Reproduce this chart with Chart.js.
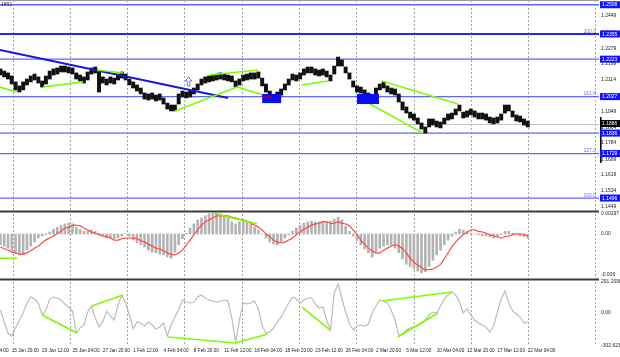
<!DOCTYPE html>
<html><head><meta charset="utf-8">
<script src="https://cdn.jsdelivr.net/npm/chart.js@4.4.1/dist/chart.umd.min.js"></script>
<style>
html,body{margin:0;padding:0;background:#fff;}
#wrap{position:relative;width:620px;height:357px;overflow:hidden;background:#fff;}
canvas{position:absolute;left:0;}
</style></head><body>
<div id="wrap">
<canvas id="c1" width="620" height="211" style="top:0px"></canvas>
<canvas id="c2" width="620" height="69" style="top:210px"></canvas>
<canvas id="c3" width="620" height="79" style="top:278px"></canvas>
</div>
<script>
// ---------- DATA (each index = one 8-hour step, two H4 candles) ----------
const priceHigh = [
1.2172,1.2161,1.2151,1.2135,1.2104,1.2083,1.2104,1.2119,1.2135,1.2145,
1.2130,1.2109,1.2135,1.2161,1.2172,1.2177,1.2187,1.2187,1.2182,1.2177,
1.2151,1.2140,1.2130,1.2156,1.2177,1.2182,1.2156,1.2130,1.2119,1.2130,
1.2124,1.2145,1.2156,1.2145,1.2119,1.2104,1.2088,1.2072,1.2046,1.2041,
1.2046,1.2035,1.2041,1.2020,1.1993,1.1983,1.1983,1.2041,1.2056,1.2051,
1.2056,1.2072,1.2093,1.2119,1.2130,1.2135,1.2140,1.2145,1.2151,1.2145,
1.2140,1.2135,1.2109,1.2119,1.2140,1.2145,1.2151,1.2151,1.2156,1.2124,
1.2093,1.2056,1.2035,1.2051,1.2067,1.2093,1.2119,1.2145,1.2140,1.2151,
1.2172,1.2182,1.2182,1.2172,1.2166,1.2172,1.2161,1.2140,1.2187,1.2234,
1.2219,1.2182,1.2151,1.2109,1.2083,1.2077,1.2062,1.2046,1.2030,1.2072,
1.2093,1.2104,1.2083,1.2072,1.2067,1.2041,1.1999,1.1973,1.1946,1.1936,
1.1915,1.1889,1.1868,1.1910,1.1910,1.1899,1.1894,1.1915,1.1936,1.1941,
1.1962,1.1983,1.1946,1.1952,1.1962,1.1952,1.1941,1.1941,1.1936,1.1920,
1.1915,1.1920,1.1936,1.1983,1.1983,1.1952,1.1931,1.1925,1.1910,1.1899];
const priceLow = [
1.2140,1.2130,1.2119,1.2093,1.2062,1.2051,1.2062,1.2088,1.2104,1.2114,
1.2098,1.2077,1.2093,1.2119,1.2140,1.2145,1.2156,1.2156,1.2151,1.2145,
1.2119,1.2109,1.2098,1.2114,1.2145,1.2151,1.2051,1.2098,1.2088,1.2098,
1.2093,1.2114,1.2124,1.2114,1.2088,1.2072,1.2056,1.2041,1.2014,1.2009,
1.2014,1.2004,1.2009,1.1988,1.1962,1.1952,1.1952,1.1988,1.2025,1.2020,
1.2025,1.2041,1.2062,1.2088,1.2098,1.2104,1.2109,1.2114,1.2119,1.2114,
1.2109,1.2104,1.2077,1.2088,1.2109,1.2114,1.2119,1.2119,1.2124,1.2083,
1.2051,1.2014,1.2004,1.2020,1.2035,1.2062,1.2088,1.2114,1.2109,1.2119,
1.2140,1.2151,1.2151,1.2140,1.2135,1.2140,1.2130,1.2109,1.2145,1.2187,
1.2187,1.2151,1.2119,1.2077,1.2051,1.2046,1.2030,1.2014,1.1999,1.2030,
1.2062,1.2072,1.2051,1.2041,1.2035,1.1999,1.1957,1.1941,1.1915,1.1904,
1.1884,1.1857,1.1836,1.1868,1.1878,1.1868,1.1863,1.1884,1.1904,1.1910,
1.1931,1.1952,1.1915,1.1920,1.1931,1.1920,1.1910,1.1910,1.1904,1.1889,
1.1884,1.1889,1.1904,1.1941,1.1952,1.1920,1.1899,1.1894,1.1878,1.1868];
const macdHist = [
-0.0016,-0.0018,-0.0021,-0.0025,-0.0028,-0.0031,-0.0030,-0.0024,-0.0018,-0.0012,
-0.0006,-0.0003,-0.0001,0.0003,0.0007,0.0010,0.0013,0.0015,0.0016,0.0015,
0.0010,0.0007,0.0004,0.0004,0.0006,0.0004,0.0001,-0.0003,-0.0006,-0.0006,
-0.0007,-0.0006,-0.0003,0,-0.0003,-0.0009,-0.0013,-0.0016,-0.0019,-0.0024,
-0.0027,-0.0028,-0.0030,-0.0031,-0.0034,-0.0036,-0.0027,-0.0016,-0.0007,0.0001,
0.0009,0.0015,0.0021,0.0024,0.0027,0.0030,0.0031,0.0031,0.0030,0.0028,
0.0024,0.0018,0.0015,0.0018,0.0019,0.0018,0.0015,0.0010,0.0006,0,
-0.0006,-0.0012,-0.0015,-0.0016,-0.0012,-0.0006,-0.0001,0.0004,0.0009,0.0013,
0.0016,0.0018,0.0019,0.0018,0.0018,0.0019,0.0018,0.0019,0.0022,0.0025,
0.0021,0.0012,0.0004,-0.0003,-0.0010,-0.0016,-0.0022,-0.0028,-0.0034,-0.0027,
-0.0021,-0.0018,-0.0016,-0.0016,-0.0021,-0.0028,-0.0037,-0.0045,-0.0049,-0.0052,
-0.0055,-0.0058,-0.0056,-0.0048,-0.0039,-0.0031,-0.0024,-0.0016,-0.0009,-0.0003,
0.0003,0.0007,0.0006,0.0003,0.0001,0,-0.0001,-0.0003,-0.0003,-0.0004,
-0.0006,-0.0004,-0.0001,0.0004,0.0004,0.0001,-0.0001,-0.0003,-0.0004,-0.0006];
const macdSignal = [
-0.0019,-0.0022,-0.0024,-0.0027,-0.0028,-0.0030,-0.0030,-0.0028,-0.0025,-0.0021,
-0.0018,-0.0013,-0.0009,-0.0006,-0.0003,0.0001,0.0004,0.0009,0.0010,0.0013,
0.0013,0.0012,0.0009,0.0006,0.0003,0.0001,-0.0001,-0.0003,-0.0004,-0.0006,
-0.0009,-0.0009,-0.0007,-0.0006,-0.0006,-0.0006,-0.0007,-0.0010,-0.0012,-0.0015,
-0.0018,-0.0021,-0.0022,-0.0025,-0.0028,-0.0030,-0.0031,-0.0028,-0.0024,-0.0016,
-0.0009,-0.0001,0.0006,0.0013,0.0018,0.0021,0.0024,0.0027,0.0027,0.0027,
0.0027,0.0025,0.0024,0.0022,0.0021,0.0019,0.0016,0.0013,0.0010,0.0006,
0,-0.0004,-0.0009,-0.0012,-0.0013,-0.0012,-0.0009,-0.0006,-0.0001,0.0003,
0.0007,0.0010,0.0013,0.0015,0.0016,0.0018,0.0018,0.0016,0.0016,0.0018,
0.0016,0.0015,0.0012,0.0006,-0.0001,-0.0009,-0.0015,-0.0021,-0.0025,-0.0028,
-0.0028,-0.0024,-0.0021,-0.0018,-0.0016,-0.0018,-0.0022,-0.0028,-0.0036,-0.0042,
-0.0046,-0.0050,-0.0053,-0.0053,-0.0052,-0.0049,-0.0045,-0.0037,-0.0028,-0.0019,
-0.0012,-0.0006,-0.0001,0.0003,0.0006,0.0006,0.0004,0.0003,0.0001,-0.0001,
-0.0003,-0.0004,-0.0006,-0.0004,-0.0003,-0.0001,0,0,-0.0001,-0.0003];
const cciValues = [
28,-85,-188,-216,-141,-66,0,94,150,131,
94,-19,28,131,150,141,122,85,56,19,
-188,-141,-113,9,66,-47,-131,-85,19,-28,
-66,75,169,94,-19,-150,-85,-94,-122,-85,
-113,-150,-131,-94,-216,-113,-38,28,122,103,
94,103,150,169,141,122,113,103,113,122,
113,-47,-272,-66,94,85,94,113,38,-122,
-188,-178,-141,-85,-38,28,94,150,131,94,
122,141,141,85,47,56,-66,-160,188,272,
141,9,-103,-160,-122,-113,-122,-103,0,66,
122,113,94,28,-66,-207,-197,-160,-141,-131,
-113,-94,-66,-19,9,0,66,131,169,197,
169,103,0,38,-19,-66,-94,-113,-131,-178,
-122,9,131,207,94,19,-9,-38,-94,-85];

const dateLabels = ["13 Jan 04:00","15 Jan 20:00","20 Jan 12:00","25 Jan 04:00","27 Jan 20:00",
  "1 Feb 12:00","4 Feb 04:00","8 Feb 20:00","11 Feb 12:00","16 Feb 04:00","18 Feb 20:00",
  "23 Feb 12:00","26 Feb 04:00","2 Mar 20:00","5 Mar 12:00","10 Mar 04:00","12 Mar 20:00",
  "17 Mar 12:00","22 Mar 04:00"];
const dateTickIdx = [-5,3,11,19,27,35,43,51,59,67,75,83,91,99,107,115,123,131,139];
const gridIdx = [3.2,18.3,33.4,48.5,63.6,78.7,93.8,108.9,124.0,139.1];
const edgeIdx = 156.7;

const priceTicks = [1.2449,1.2364,1.2279,1.2199,1.2114,1.2029,1.1949,1.1864,1.1784,1.1699,1.1619,1.1534,1.1449];
const levelPrices = [1.2508,1.2355,1.2223,1.2027,1.1836,1.1729,1.1496];
const fibLevels = [1.2355,1.2027,1.1729,1.1496];
const fibNames = ["200.0","161.8","127.2","100.0"];
const currentPrice = 1.1886;
const rangeMarker = [1.1680,1.1920];

const trendLine = [[-0.1,1.2271],[60.0,1.2020]];
const greenPrice = [[-0.1,1.2077,4.4,1.2051],[11.2,1.2077,21.8,1.2104],[25.5,1.2166,32.3,1.2151],
  [46.0,1.1952,62.4,1.2077],[55.2,1.2140,67.9,1.2166],[62.4,1.2077,69.2,1.2035],
  [79.5,1.2088,86.4,1.2109],[100.6,1.2109,120.6,1.1988],[97.4,1.1988,111.4,1.1836]];
const zones = [[69.0,74.0,1.2041,1.1993],[94.0,99.8,1.2041,1.1988]];
const redMark = [69.2,71.6,1.2025];
const arrowMark = [49.6,1.2130,1.2083];

const macdTickVals = [0.00297,0,-0.006];
const macdTickText = ["0.00297","0.00","-0.006"];
const greenMacd = [[-0.1,-0.0036,4.4,-0.0036],[56.6,0.0030,67.6,0.0015]];

const cciTickVals = [291.2098,0,-302.621];
const cciTickText = ["291.2098","0.00","-302.621"];
const greenCci = [[11.0,-19,20.2,-188],[24.1,66,32.3,169],[44.2,-225,61.8,-282],[61.8,-282,70.5,-197],
  [79.5,56,86.9,-160],[100.6,113,119.0,197],[104.8,-225,115.3,0]];

// ---------- helpers ----------
const FONT = 'Liberation Sans';
const X_MIN = -0.1, X_MAX = 157.78;

function segDatasets(segs, color, width, order){
  return segs.map(s => ({type:'line', data:[{x:s[0],y:s[1]},{x:s[2],y:s[3]}],
    borderColor:color, borderWidth:width, pointRadius:0, tension:0, order:order, clip:false}));
}
function xScale(display){
  const o = {type:'linear', min:X_MIN, max:X_MAX, offset:false, display:display,
    grid:{display:false, drawTicks:false, offset:false}, border:{display:false}};
  if (display){
    o.ticks = {autoSkip:false, maxRotation:0, minRotation:0, align:'start', padding:2,
      font:{size:4.7, family:FONT}, color:'#222', callback:(v,i)=>dateLabels[i]};
    o.afterBuildTicks = s => { s.ticks = dateTickIdx.map(v=>({value:v})); };
    o.afterFit = s => { s.height = 11; s.paddingLeft = 0; s.paddingRight = 0; };
  }
  return o;
}
function yScale(min, max, vals, fmt){
  return {type:'linear', position:'right', min:min, max:max,
    grid:{display:false, drawTicks:false}, border:{display:false},
    ticks:{padding:2, font:{size:5, family:FONT}, color:'#222', callback:fmt, autoSkip:false},
    afterBuildTicks: s => { s.ticks = vals.map(v=>({value:v})); },
    afterFit: s => { s.width = 21; s.paddingTop = 0; s.paddingBottom = 0; }};
}
function decor(separator){
  return {id:'decor', beforeDatasetsDraw(chart){
    const {ctx, chartArea:a} = chart; const xs = chart.scales.x;
    ctx.save();
    ctx.strokeStyle = '#a4a4a4'; ctx.lineWidth = 1; ctx.setLineDash([2,2]);
    gridIdx.concat([edgeIdx]).forEach(g => {
      const X = Math.round(xs.getPixelForValue(g)) + 0.5;
      ctx.beginPath(); ctx.moveTo(X, a.top); ctx.lineTo(X, a.bottom); ctx.stroke();
    });
    ctx.setLineDash([]);
    if (separator){ ctx.fillStyle = '#3a3a3a'; ctx.fillRect(0, 0.5, a.right, 2); }
    ctx.restore();
  }};
}
const base = {responsive:false, animation:false, devicePixelRatio:1, events:[],
  layout:{padding:0}, plugins:{legend:{display:false}, tooltip:{enabled:false}}};

// ---------- price panel ----------
const candleData = priceHigh.map((h,i)=>({x:i, y:[priceLow[i], h]}));
const pricePlugin = {
  id:'priceDecor',
  beforeDatasetsDraw(chart){
    const {ctx, chartArea:a, scales:{x, y}} = chart;
    ctx.save();
    ctx.fillStyle = '#9a9a9a'; ctx.fillRect(0, 0, a.right, 1);
    levelPrices.forEach(p => {
      const Y = y.getPixelForValue(p);
      const main = (p === 1.2355);
      ctx.strokeStyle = main ? '#2626ee' : '#6464ff';
      ctx.lineWidth = main ? 2 : 1.3;
      ctx.beginPath(); ctx.moveTo(0, Y); ctx.lineTo(a.right, Y); ctx.stroke();
    });
    const Yc = Math.round(y.getPixelForValue(currentPrice)) + 0.5;
    ctx.strokeStyle = '#c4c4c4'; ctx.lineWidth = 1;
    ctx.beginPath(); ctx.moveTo(0, Yc); ctx.lineTo(a.right, Yc); ctx.stroke();
    ctx.restore();
  },
  afterDatasetsDraw(chart){
    const {ctx, scales:{x, y}} = chart;
    ctx.save();
    ctx.fillStyle = '#0b0bf5';
    zones.forEach(z => {
      const x0 = x.getPixelForValue(z[0]), x1 = x.getPixelForValue(z[1]);
      const y0 = y.getPixelForValue(z[2]), y1 = y.getPixelForValue(z[3]);
      ctx.fillRect(x0, y0, x1-x0, y1-y0);
    });
    ctx.strokeStyle = '#b00000'; ctx.lineWidth = 1.5;
    const ry = y.getPixelForValue(redMark[2]);
    ctx.beginPath(); ctx.moveTo(x.getPixelForValue(redMark[0]), ry); ctx.lineTo(x.getPixelForValue(redMark[1]), ry); ctx.stroke();
    // up arrow
    const X = x.getPixelForValue(arrowMark[0]);
    const T = y.getPixelForValue(arrowMark[1]), B = y.getPixelForValue(arrowMark[2]);
    ctx.beginPath();
    ctx.moveTo(X, T); ctx.lineTo(X+3.2, T+4); ctx.lineTo(X+1.3, T+4); ctx.lineTo(X+1.3, B);
    ctx.lineTo(X-1.3, B); ctx.lineTo(X-1.3, T+4); ctx.lineTo(X-3.2, T+4); ctx.closePath();
    ctx.fillStyle = '#ffffff'; ctx.fill();
    ctx.strokeStyle = '#6a6aff'; ctx.lineWidth = 1; ctx.stroke();
    ctx.restore();
  },
  afterDraw(chart){
    const {ctx, chartArea:a, scales:{y}} = chart;
    ctx.save();
    ctx.font = '5px "' + FONT + '"';
    ctx.fillStyle = '#7070ff'; ctx.textAlign = 'right'; ctx.textBaseline = 'alphabetic';
    fibLevels.forEach((p,k) => { ctx.fillText(fibNames[k], a.right - 3, y.getPixelForValue(p) - 1.2); });
    ctx.fillStyle = '#000';
    const r0 = y.getPixelForValue(rangeMarker[1]), r1 = y.getPixelForValue(rangeMarker[0]);
    ctx.fillRect(a.right + 1, r0, 1.6, r1 - r0);
    ctx.textAlign = 'left'; ctx.textBaseline = 'middle';
    levelPrices.forEach(p => {
      const Y = y.getPixelForValue(p);
      ctx.fillStyle = '#1212ff'; ctx.fillRect(a.right + 1, Y - 3.5, 20, 7);
      ctx.fillStyle = '#ffffff'; ctx.fillText(p.toFixed(4), a.right + 3, Y + 0.3);
    });
    const Yc = y.getPixelForValue(currentPrice);
    ctx.fillStyle = '#000'; ctx.fillRect(a.right + 1, Yc - 3.5, 20, 7);
    ctx.fillStyle = '#fff'; ctx.fillText(currentPrice.toFixed(4), a.right + 3, Yc + 0.3);
    ctx.fillStyle = '#333'; ctx.textAlign = 'left'; ctx.textBaseline = 'top';
    ctx.fillText('1892', 1, 2);
    ctx.restore();
  }
};
new Chart(document.getElementById('c1'), {
  type:'bar',
  data:{datasets:[
    {type:'bar', data:candleData, backgroundColor:'#111', borderWidth:0, barThickness:3.3, grouped:false, order:10},
    {type:'line', data:trendLine.map(p=>({x:p[0],y:p[1]})), borderColor:'#1616dc', borderWidth:2, pointRadius:0, tension:0, order:2, clip:false},
    ...segDatasets(greenPrice, '#7cfc00', 1.6, 1)
  ]},
  options:Object.assign({}, base, {scales:{
    x:xScale(false),
    y:yScale(1.14281, 1.25328, priceTicks, v => v.toFixed(4))
  }}),
  plugins:[decor(false), pricePlugin]
});

// ---------- MACD panel ----------
new Chart(document.getElementById('c2'), {
  type:'bar',
  data:{datasets:[
    {type:'bar', data:macdHist.map((v,i)=>({x:i,y:v})), backgroundColor:'#b3b3b3', borderWidth:0, barThickness:2, grouped:false, order:10},
    {type:'line', data:macdSignal.map((v,i)=>({x:i,y:v})), borderColor:'#ff4a4a', borderWidth:1.2, pointRadius:0, tension:0.3, order:2},
    ...segDatasets(greenMacd, '#7cfc00', 1.6, 1)
  ]},
  options:Object.assign({}, base, {scales:{
    x:xScale(false),
    y:yScale(-0.006683, 0.003564, macdTickVals, (v,i) => macdTickText[i])
  }}),
  plugins:[decor(true)]
});

// ---------- CCI panel ----------
new Chart(document.getElementById('c3'), {
  type:'line',
  data:{datasets:[
    {type:'line', data:cciValues.map((v,i)=>({x:i,y:v})), borderColor:'#bcbcbc', borderWidth:1.2, pointRadius:0, tension:0, order:2},
    ...segDatasets(greenCci, '#7cfc00', 1.6, 1)
  ]},
  options:Object.assign({}, base, {scales:{
    x:xScale(true),
    y:yScale(-309.9, 328.6, cciTickVals, (v,i) => cciTickText[i])
  }}),
  plugins:[decor(true)]
});
</script>
</body></html>
